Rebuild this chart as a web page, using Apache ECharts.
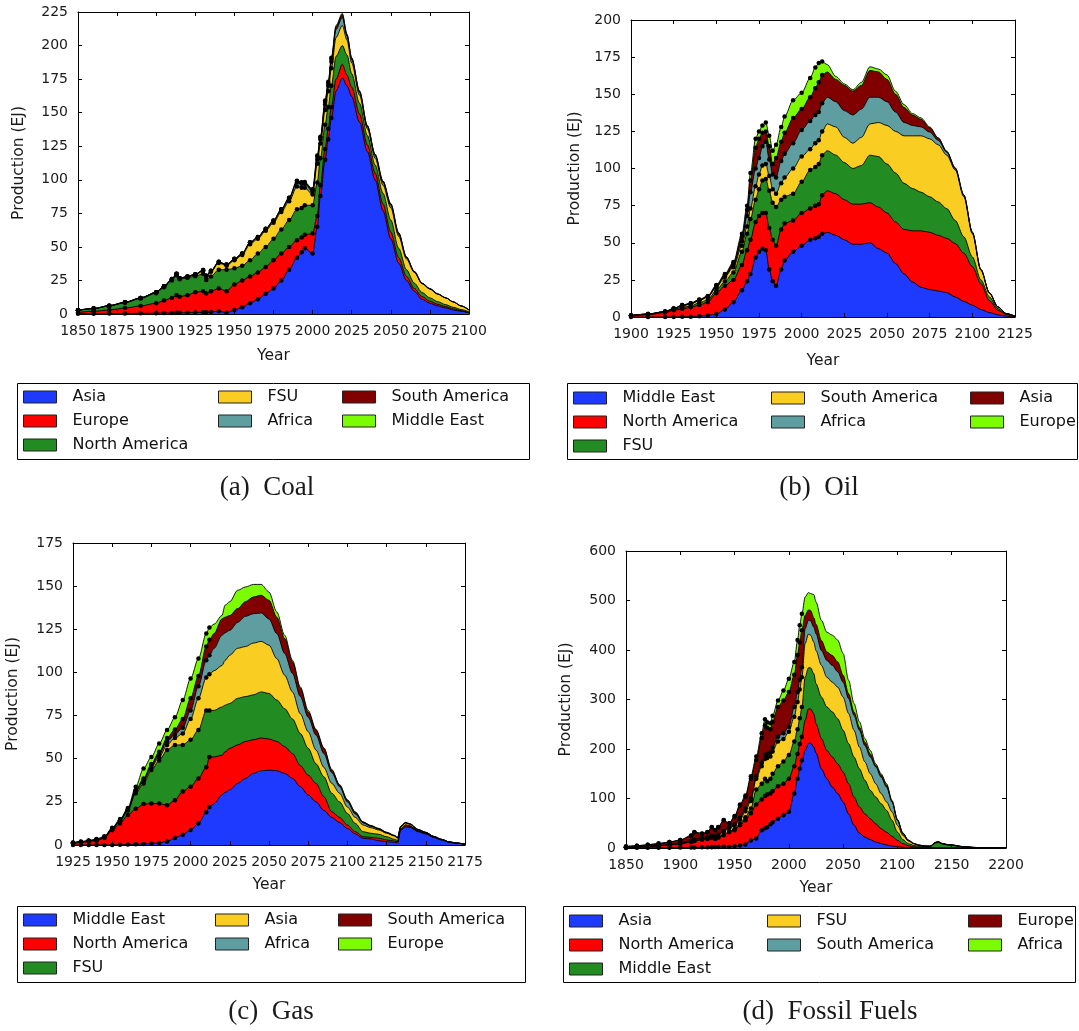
<!DOCTYPE html>
<html>
<head>
<meta charset="utf-8">
<script src="https://cdn.jsdelivr.net/npm/echarts@6/dist/echarts.min.js"></script>
<style>
  body { margin: 0; background: #fff; }
  .panel { position: absolute; }
</style>
</head>
<body>
<div id="coal" class="panel" style="left:0;top:0;width:540px;height:515px"></div>
<div id="oil" class="panel" style="left:540px;top:0;width:539px;height:515px"></div>
<div id="gas" class="panel" style="left:0;top:515px;width:540px;height:516px"></div>
<div id="fossil" class="panel" style="left:540px;top:515px;width:539px;height:516px"></div>
<script>
// region colours, bottom of the stack first
const regionColors = ['#1f3aff', '#ff0000', '#228b22', '#facd22', '#5f9ea0', '#800000', '#7cfc00'];

// (a) Coal
const coalYears = [1850, 1860, 1870, 1880, 1890, 1900, 1905, 1910, 1913, 1915, 1920, 1925, 1930, 1932, 1935, 1940, 1945, 1950, 1955, 1960, 1965, 1970, 1975, 1980, 1985, 1990, 1993, 1995, 2000, 2003, 2005, 2008, 2010, 2012, 2015, 2019, 2022, 2025, 2030, 2035, 2040, 2045, 2050, 2055, 2060, 2065, 2070, 2075, 2080, 2085, 2090, 2095, 2100];
const coalAsia = [0.2, 0.2, 0.3, 0.4, 0.5, 0.6, 0.7, 0.8, 0.9, 0.9, 1, 1.2, 1.3, 1.3, 1.5, 2, 1, 3, 5, 8, 11, 15, 19, 25, 33, 42, 46, 49, 45, 65, 88, 115, 130, 146, 166, 176, 170, 162, 143, 121, 100, 77, 56, 38, 25, 17, 11, 8, 6, 4.5, 3, 2, 0.7];
const coalEurope = [1, 1.8, 2.7, 4, 5.5, 7.4, 9.3, 11.2, 13, 12, 13, 15, 15.7, 14, 15.5, 17, 16, 19, 20, 20, 20, 20, 21, 20, 17, 13, 11, 10, 15, 8, 8, 8, 8, 8, 9, 10, 8, 7, 6, 5, 5, 5, 5, 4, 3, 2, 2, 1.5, 1.2, 1, 0.8, 0.5, 0.3];
const coalNorthAmerica = [1.5, 2, 3, 4, 5.5, 7.5, 10, 13, 15, 13, 13, 12, 13, 10, 11, 14, 16, 12, 11, 12, 14, 15, 16, 18, 20, 23, 22, 22, 21, 25, 20, 18, 16, 16, 17, 14, 15, 10, 8, 7, 6, 8, 9, 7, 5, 4, 3, 2.5, 2, 1.5, 1.2, 0.8, 0.5];
const coalFSU = [0.1, 0.1, 0.2, 0.3, 0.4, 0.5, 0.5, 0.6, 0.7, 0.5, 0.5, 1, 2, 2.5, 3.5, 5, 3, 6, 8, 12, 11, 12, 12, 13, 14, 17, 15, 13, 8, 14, 11, 11, 12, 13, 14, 15, 11, 8, 6, 5, 5, 6, 9, 9, 8, 8, 6.5, 6.5, 5.5, 5, 4, 2.7, 1.5];
const coalAfrica = [0, 0, 0, 0, 0.1, 0.2, 0.2, 0.3, 0.3, 0.3, 0.4, 0.4, 0.5, 0.5, 0.5, 0.6, 0.6, 0.8, 0.8, 1, 1, 1, 1.2, 1.5, 2, 3, 3, 3, 2, 3, 3, 4, 4, 5, 6, 6, 3, 2.5, 2, 1.5, 2, 2, 2, 1.5, 1, 0.5, 0.3, 0.2, 0.2, 0.1, 0, 0, 0];
const coalSouthAmerica = [0, 0, 0, 0, 0, 0, 0, 0.1, 0.1, 0, 0.1, 0.1, 0.2, 0.2, 0.2, 0.3, 0.2, 0.3, 0.3, 0.4, 0.4, 0.5, 0.5, 0.5, 0.7, 1, 1, 1, 1.5, 2, 1.5, 2, 2, 2, 2, 2, 1, 1, 1, 0.8, 0.8, 1, 1, 1, 0.5, 0.3, 0.2, 0.2, 0.1, 0, 0, 0, 0];
const coalMiddleEast = [0, 0, 0, 0, 0, 0, 0, 0, 0, 0, 0, 0, 0, 0, 0, 0, 0, 0, 0, 0, 0, 0, 0, 0, 0, 0.2, 0.2, 0.3, 0.5, 1, 0.5, 1, 1, 1, 1, 1, 0.5, 0.5, 0.3, 0.2, 0.2, 0.2, 0.2, 0.1, 0.1, 0, 0, 0, 0, 0, 0, 0, 0];

// (b) Oil
const oilYears = [1900, 1910, 1920, 1925, 1930, 1935, 1940, 1945, 1950, 1955, 1960, 1965, 1968, 1970, 1973, 1975, 1977, 1979, 1981, 1983, 1985, 1988, 1990, 1995, 2000, 2005, 2008, 2010, 2012, 2015, 2020, 2025, 2030, 2035, 2040, 2045, 2050, 2055, 2060, 2065, 2070, 2075, 2080, 2085, 2090, 2095, 2100, 2105, 2110, 2115, 2120, 2125];
const oilMiddleEast = [0, 0, 0, 0, 0.1, 0.2, 0.5, 1, 2, 5, 10, 18, 24, 29, 40, 44, 46, 45, 32, 24, 21, 32, 38, 44, 48, 52, 53, 54, 56, 57, 55, 52, 49, 49, 50, 46, 43, 36, 29, 23.5, 20, 18.5, 17.5, 16.4, 13.5, 10.5, 8, 5, 3, 1.5, 0.5, 0];
const oilNorthAmerica = [0.8, 1.5, 3, 4.5, 5.4, 6.3, 7.5, 9, 14, 16, 15, 17, 21, 23, 24, 24, 24, 25, 28, 28, 27, 27, 25, 21, 22, 21, 22, 22, 26, 28, 28, 27, 27, 27, 27, 28, 27, 28, 30, 34.5, 38, 38.5, 37.5, 36.6, 36, 32.5, 26, 17.5, 8, 3, 1, 0.3];
const oilFSU = [0.1, 0.3, 0.4, 0.5, 1, 1, 1.5, 1.5, 2, 3, 5, 9, 11, 14, 15, 18, 22, 23, 25, 25, 26, 20, 18, 18, 21, 26, 26, 27, 27, 27, 26, 25, 24, 26, 32, 34, 33, 33, 31, 28.5, 26, 24, 22.5, 20, 15.5, 11, 6.5, 2.5, 2.5, 1.1, 0.5, 0.1];
const oilSouthAmerica = [0.1, 0.2, 0.2, 0.5, 1, 1.3, 1.5, 2, 2, 3, 3.5, 4, 5, 7, 9, 10, 10, 10, 10, 9, 9, 11, 13, 17, 17, 14, 16, 16, 16, 18, 19, 17, 17, 19, 21, 23, 26, 28, 32, 35.5, 38, 39, 38.5, 36, 34, 27, 15.5, 6.5, 2.5, 1.1, 0.2, 0.1];
const oilAfrica = [0, 0, 0, 0, 0, 0, 0, 0.1, 0.2, 0.5, 1, 3, 7, 11, 12, 11, 13, 15, 11, 10, 11, 15, 16, 17, 18, 19, 19, 19, 19, 18, 17, 18, 19, 19, 18, 17, 16, 13, 9, 7, 6, 4.5, 3, 2, 1, 1, 1, 0.5, 0.3, 0.1, 0.1, 0];
const oilAsia = [0, 0, 0.1, 0.3, 0.5, 0.4, 0.6, 0.4, 0.8, 1, 1.5, 3, 4, 8, 14, 13, 9, 7, 9, 7, 13, 13, 14, 17, 14, 16, 18, 20, 19, 17, 15, 17, 16, 16, 18, 17, 15, 12, 10, 7, 5, 3, 1.5, 0.5, 0.3, 0.2, 0.1, 0.1, 0, 0, 0, 0];
const oilEurope = [0, 0, 0, 0, 0, 0.1, 0.2, 0.2, 0.5, 0.5, 1, 2, 3, 5, 6, 5, 5, 6, 7, 9, 9, 10, 11, 12, 11, 13, 14, 13, 9, 5, 2, 1, 1, 2, 2.5, 2, 3, 2, 2, 1, 1, 0.5, 0.2, 0.1, 0.1, 0.1, 0.1, 0, 0, 0, 0, 0];

// (c) Gas
const gasYears = [1925, 1930, 1935, 1940, 1945, 1950, 1955, 1960, 1965, 1970, 1975, 1980, 1985, 1990, 1995, 2000, 2005, 2010, 2012, 2015, 2020, 2022, 2025, 2030, 2035, 2040, 2045, 2050, 2055, 2060, 2065, 2070, 2075, 2080, 2085, 2090, 2095, 2100, 2105, 2110, 2115, 2120, 2125, 2130, 2132, 2134, 2137, 2140, 2145, 2150, 2155, 2160, 2165, 2170, 2175];
const gasMiddleEast = [0, 0, 0, 0, 0, 0, 0.2, 0.3, 0.4, 0.6, 0.9, 1.2, 2, 4, 6, 8.7, 12.5, 19, 22, 24, 29, 30.5, 32, 35.7, 38.6, 41.5, 43, 43.4, 43, 41.5, 38.6, 33.8, 29, 25, 20, 16, 13, 9.6, 6.4, 3.9, 3.5, 2.5, 1.9, 1.5, 1.2, 8.5, 10.5, 10.2, 7.7, 6.4, 4.4, 2.9, 1.5, 1, 0.5];
const gasNorthAmerica = [1, 1.5, 2, 2.5, 4, 8.5, 12.3, 17.1, 20.6, 23.1, 23.1, 22.8, 21, 22, 25, 25.1, 26.1, 26, 29, 27, 23, 23.5, 24, 22.3, 21.4, 19.5, 19, 18, 17, 15.5, 14.4, 12.2, 11.5, 10.7, 8, 3.3, 3, 2, 1.3, 0.9, 0.9, 1.4, 1, 0.8, 0.6, 0.5, 0.7, 0.6, 0.3, 0.2, 0.1, 0.1, 0.1, 0, 0];
const gasFSU = [0.2, 0.2, 0.3, 0.5, 0.5, 0.8, 1.5, 2.6, 9, 12, 19.4, 25, 32, 32, 27, 27.2, 28, 33, 27, 27, 28, 27, 26, 27, 26, 26, 26.7, 26.4, 24, 22, 20, 18.6, 15.5, 11.3, 11.5, 10.7, 9, 6.7, 4.8, 2.9, 2.4, 2.3, 1.9, 1, 0.8, 0.5, 0.6, 0.4, 0.3, 0.2, 0.1, 0.1, 0.1, 0, 0];
const gasAsia = [0, 0, 0, 0, 0, 0.1, 0.2, 0.5, 1, 1.3, 1.6, 2, 3, 4, 6.6, 12, 18.4, 19, 21, 23, 24, 26, 28, 29, 29, 30, 29.3, 28, 24, 19.4, 15.7, 11.4, 9.6, 8, 5.5, 5.7, 5, 3.7, 3.5, 3.9, 3.2, 2.5, 2, 1.9, 1.4, 1, 1, 0.8, 0.5, 0.4, 0.3, 0.1, 0.1, 0.1, 0];
const gasAfrica = [0, 0, 0, 0, 0, 0, 0, 0, 0.3, 0.5, 1, 1.5, 2, 2, 3.4, 5, 7, 10, 11, 13, 17.5, 16, 14.4, 15, 17.5, 17, 16.5, 15.2, 14.5, 12.6, 10.7, 10, 8.4, 8.7, 8, 6.3, 3.8, 3, 2, 1.2, 0.8, 0.5, 0.3, 0.2, 0.1, 0.1, 0.1, 0.1, 0.1, 0.1, 0.1, 0.1, 0, 0, 0];
const gasSouthAmerica = [0.1, 0.1, 0.1, 0.2, 0.2, 0.2, 0.2, 0.3, 0.5, 1, 1, 1.5, 2, 3, 5, 7, 6, 8, 9, 8.5, 9.5, 9, 8.6, 8, 8.5, 9.7, 10.2, 10.8, 9.5, 8.6, 6.6, 4.7, 3, 2.9, 3, 1.4, 0.9, 1, 1, 0.5, 0.4, 0.3, 0.2, 0.1, 0.1, 0.1, 0.1, 0.1, 0.1, 0, 0, 0, 0, 0, 0];
const gasEurope = [0.1, 0.2, 0.2, 0.3, 0.3, 0.4, 0.6, 0.7, 2, 5.9, 4, 4.8, 4.6, 7, 11, 11.5, 10, 7.5, 7, 5.5, 2, 7, 8, 10.6, 8.5, 7.3, 6.3, 4.8, 3, 1.9, 1, 0.9, 1, 0.4, 0.3, 0.4, 0.3, 0.2, 0.2, 0.1, 0.1, 0.1, 0.1, 0.1, 0.1, 0.1, 0.1, 0.1, 0, 0.1, 0, 0, 0, 0, 0];

// (d) Fossil Fuels
const fossilYears = [1850, 1860, 1870, 1880, 1890, 1900, 1910, 1913, 1920, 1925, 1929, 1932, 1935, 1940, 1945, 1950, 1955, 1960, 1965, 1970, 1975, 1978, 1980, 1983, 1985, 1990, 1995, 2000, 2005, 2008, 2010, 2012, 2015, 2018, 2020, 2023, 2025, 2030, 2035, 2040, 2045, 2050, 2055, 2060, 2065, 2070, 2075, 2080, 2085, 2090, 2095, 2100, 2105, 2110, 2115, 2120, 2125, 2130, 2135, 2138, 2140, 2145, 2150, 2160, 2170, 2180, 2190, 2200];
const fossilAsia = [0.2, 0.3, 0.4, 0.5, 0.6, 0.8, 1, 1.2, 1.3, 1.5, 1.7, 1.8, 2, 2.5, 2, 3.4, 5, 7, 15, 19, 36, 40, 42, 48, 52, 59, 66, 73, 110, 140, 160, 177, 197, 211, 212, 204, 192, 160, 140, 123, 110, 93, 69, 46, 30, 22, 17, 12, 9, 6, 4, 2.5, 1.5, 0.8, 0.5, 0.3, 0.2, 0.1, 0.1, 0.1, 0.1, 0.1, 0.1, 0, 0, 0, 0, 0];
const fossilNorthAmerica = [1.3, 1.7, 2.6, 4, 5.4, 7.9, 11, 12.8, 15.7, 16.5, 18.3, 16.2, 19, 23.1, 30, 32.6, 41, 49, 55, 69, 62, 65, 66, 62, 63, 66, 64, 67, 55, 50, 50, 48, 61, 70, 69, 67, 59, 61, 57, 61, 60, 60.5, 61, 57, 53, 47, 42, 37, 30, 26, 19.5, 13, 7.3, 3.9, 2, 1.2, 0.8, 0.4, 0.3, 0.2, 0.2, 0.1, 0.1, 0.1, 0.1, 0, 0, 0];
const fossilMiddleEast = [0, 0, 0, 0, 0, 0, 0, 0.1, 0.2, 0.3, 0.5, 0.5, 0.7, 0.9, 1.5, 2, 3, 6, 10, 30, 32, 35, 27, 30, 35, 40, 45, 48, 50, 50, 52, 60, 87, 83, 83, 81, 81, 84, 88, 91, 91, 84.5, 81, 81, 77, 68, 57.5, 54, 50.6, 44, 32.5, 16.5, 8.2, 4.1, 2.9, 2, 1.5, 1.5, 9.6, 11.2, 8.5, 6.3, 5.2, 2.4, 0.9, 0.3, 0.2, 0.5];
const fossilFSU = [0.1, 0.2, 0.3, 0.5, 0.8, 1.3, 2, 2.4, 1.8, 2.2, 2.5, 3.5, 4.3, 6.5, 6.5, 7, 8, 12, 15, 22, 35, 40, 47, 45, 45, 50, 45, 47, 50, 55, 58, 60, 68, 68, 66, 64, 67, 64, 60, 60, 64, 67, 61, 54, 44, 37, 33.5, 27, 20.4, 17, 17, 14, 8.6, 5.2, 3.4, 2, 1.5, 1.5, 1, 1, 0.7, 0.5, 0.4, 0.2, 0.1, 0, 0, 0];
const fossilSouthAmerica = [0, 0, 0, 0, 0, 0, 0.2, 0.3, 0.5, 0.7, 1, 1, 1, 1.5, 2, 2.5, 4, 6, 5, 5, 7, 8, 8, 8, 8, 10, 12, 10, 20, 20, 20, 20, 30, 28, 29, 30, 34, 30, 34, 34, 31, 30, 30, 30, 34, 33, 34, 34, 33, 30, 20, 10, 3.4, 1.5, 0.2, 0.2, 0.1, 0.1, 0.2, 0.2, 0.2, 0.2, 0.2, 0.1, 0.1, 0.1, 0.1, 0.1];
const fossilEurope = [1.4, 2.3, 3.2, 4, 5.2, 6, 10.8, 15.2, 9.5, 10.8, 18, 13, 15, 21.5, 7, 15.5, 25, 23, 40, 33, 50, 60, 53, 47, 52, 60, 66, 70, 65, 75, 75, 75, 27, 21, 21, 19, 19, 20, 17, 20, 20, 14, 10, 7, 6, 7, 6, 3, 4, 4, 2, 1, 1, 0.5, 0.2, 0.1, 0.1, 0.1, 0.1, 0.1, 0.1, 0.1, 0.1, 0.1, 0, 0, 0, 0];
const fossilAfrica = [0, 0, 0, 0, 0.1, 0.2, 0.3, 0.3, 0.4, 0.5, 0.5, 0.5, 0.6, 0.8, 1, 1.5, 2, 3, 5, 7, 10, 12, 11, 12, 12, 13, 20, 27, 26, 30, 35, 33, 37, 35, 34, 47, 45, 41, 40, 41, 44, 44, 27, 17, 11, 7, 7, 3, 3, 3, 1, 1, 0.5, 0.2, 0.1, 0.1, 0.1, 0.1, 0.1, 0.1, 0.1, 0.1, 0.1, 0.1, 0.1, 0, 0, 0];

const fontSans = 'DejaVu Sans';

function buildOption(p) {
  // running totals: each region is drawn from 0 up to its upper boundary,
  // the upper regions first so the lower ones paint over them
  let running = p.years.map(() => 0);
  const tops = p.values.map((vals) => {
    running = running.map((s, k) => s + vals[k]);
    return running;
  });
  const series = p.names.map((name, i) => ({
    name,
    type: 'line',
    data: p.years.map((yr, k) => [yr, tops[i][k]]),
    smooth: 0.3,
    smoothMonotone: 'x',
    symbol: 'circle',
    symbolSize: (v) => (v[0] <= p.histEnd ? 4.5 : 0),
    itemStyle: { color: '#000' },
    lineStyle: { color: '#000', width: 0.9 },
    areaStyle: { color: regionColors[i], opacity: 1, origin: 'start' },
    emphasis: { disabled: true },
    silent: true,
  })).reverse();

  const axisBase = {
    type: 'value',
    z: 30,
    axisLine: { show: true, onZero: false, lineStyle: { color: '#000', width: 1 } },
    axisTick: { show: true, inside: true, length: 4, lineStyle: { color: '#000' } },
    splitLine: { show: false },
  };
  const labelStyle = { fontFamily: fontSans, fontSize: 14, color: '#1a1a1a', margin: 10, formatter: (v) => String(v) };
  const nameStyle = { fontFamily: fontSans, fontSize: 15.5, color: '#1a1a1a' };

  return {
    animation: false,
    grid: { left: p.grid[0], top: p.grid[1], width: p.grid[2], height: p.grid[3], outerBoundsMode: 'none' },
    xAxis: [
      { ...axisBase, position: 'bottom', min: p.xMin, max: p.xMax, interval: p.xStep,
        name: 'Year', nameLocation: 'middle', nameGap: p.xNameGap, nameTextStyle: nameStyle, axisLabel: labelStyle },
      { ...axisBase, position: 'top', min: p.xMin, max: p.xMax, interval: p.xStep, axisLabel: { show: false } },
    ],
    yAxis: [
      { ...axisBase, position: 'left', min: 0, max: p.yMax, interval: p.yStep,
        name: 'Production (EJ)', nameLocation: 'middle', nameGap: p.yNameGap, nameTextStyle: nameStyle, axisLabel: labelStyle },
      { ...axisBase, position: 'right', min: 0, max: p.yMax, interval: p.yStep, axisLabel: { show: false } },
    ],
    legend: p.legendCols.map((col) => ({
      orient: 'vertical',
      left: col.left,
      top: p.legendTop,
      padding: 0,
      itemWidth: 33,
      itemHeight: 12,
      itemGap: 6,
      icon: 'rect',
      selectedMode: false,
      textStyle: { fontFamily: fontSans, fontSize: 16, color: '#111', lineHeight: 18, padding: [0, 0, 0, 11] },
      data: col.names.map((n) => ({
        name: n,
        itemStyle: { color: regionColors[p.names.indexOf(n)], borderColor: '#222', borderWidth: 1 },
      })),
    })),
    graphic: [{
      type: 'rect',
      shape: { x: p.box[0] + 0.5, y: p.box[1] + 0.5, width: p.box[2], height: p.box[3] },
      style: { fill: 'none', stroke: '#000', lineWidth: 1 },
      silent: true,
    }],
    title: {
      text: p.caption,
      left: p.captionX,
      top: p.captionTop,
      textAlign: 'center',
      padding: 0,
      textStyle: { fontFamily: 'Liberation Serif', fontSize: 27, fontWeight: 'normal', color: '#1a1a1a' },
    },
    series,
  };
}

const panels = [
  {
    el: 'coal', caption: '(a)  Coal', captionX: 267, captionTop: 474,
    years: coalYears, histEnd: 2012,
    names: ['Asia', 'Europe', 'North America', 'FSU', 'Africa', 'South America', 'Middle East'],
    values: [coalAsia, coalEurope, coalNorthAmerica, coalFSU, coalAfrica, coalSouthAmerica, coalMiddleEast],
    grid: [78, 12, 391, 302], xMin: 1850, xMax: 2100, xStep: 25, yMax: 225, yStep: 25,
    xNameGap: 34, yNameGap: 51,
    legendTop: 388, box: [17, 383, 512, 76],
    legendCols: [
      { left: 23, names: ['Asia', 'Europe', 'North America'] },
      { left: 218, names: ['FSU', 'Africa'] },
      { left: 342, names: ['South America', 'Middle East'] },
    ],
  },
  {
    el: 'oil', caption: '(b)  Oil', captionX: 279, captionTop: 474,
    years: oilYears, histEnd: 2012,
    names: ['Middle East', 'North America', 'FSU', 'South America', 'Africa', 'Asia', 'Europe'],
    values: [oilMiddleEast, oilNorthAmerica, oilFSU, oilSouthAmerica, oilAfrica, oilAsia, oilEurope],
    grid: [91, 20, 384, 297], xMin: 1900, xMax: 2125, xStep: 25, yMax: 200, yStep: 25,
    xNameGap: 36, yNameGap: 46,
    legendTop: 389, box: [27, 383, 510, 76],
    legendCols: [
      { left: 33, names: ['Middle East', 'North America', 'FSU'] },
      { left: 231, names: ['South America', 'Africa'] },
      { left: 430, names: ['Asia', 'Europe'] },
    ],
  },
  {
    el: 'gas', caption: '(c)  Gas', captionX: 271, captionTop: 483,
    years: gasYears, histEnd: 2012,
    names: ['Middle East', 'North America', 'FSU', 'Asia', 'Africa', 'South America', 'Europe'],
    values: [gasMiddleEast, gasNorthAmerica, gasFSU, gasAsia, gasAfrica, gasSouthAmerica, gasEurope],
    grid: [73, 28, 392, 302], xMin: 1925, xMax: 2175, xStep: 25, yMax: 175, yStep: 25,
    xNameGap: 32, yNameGap: 52,
    legendTop: 396, box: [17, 391, 508, 76],
    legendCols: [
      { left: 23, names: ['Middle East', 'North America', 'FSU'] },
      { left: 215, names: ['Asia', 'Africa'] },
      { left: 338, names: ['South America', 'Europe'] },
    ],
  },
  {
    el: 'fossil', caption: '(d)  Fossil Fuels', captionX: 290, captionTop: 483,
    years: fossilYears, histEnd: 2012,
    names: ['Asia', 'North America', 'Middle East', 'FSU', 'South America', 'Europe', 'Africa'],
    values: [fossilAsia, fossilNorthAmerica, fossilMiddleEast, fossilFSU, fossilSouthAmerica, fossilEurope, fossilAfrica],
    grid: [86, 36, 380, 297], xMin: 1850, xMax: 2200, xStep: 50, yMax: 600, yStep: 100,
    xNameGap: 32, yNameGap: 52,
    legendTop: 397, box: [23, 391, 512, 76],
    legendCols: [
      { left: 29, names: ['Asia', 'North America', 'Middle East'] },
      { left: 227, names: ['FSU', 'South America'] },
      { left: 428, names: ['Europe', 'Africa'] },
    ],
  },
];

panels.forEach((p) => {
  const chart = echarts.init(document.getElementById(p.el), null, { renderer: 'canvas' });
  chart.setOption(buildOption(p));
});
</script>
</body>
</html>
